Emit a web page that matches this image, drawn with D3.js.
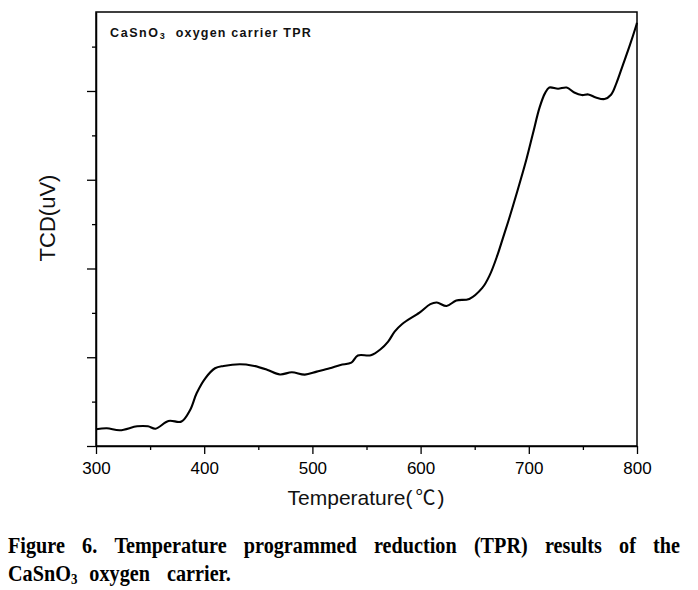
<!DOCTYPE html>
<html>
<head>
<meta charset="utf-8">
<script src="https://cdn.jsdelivr.net/npm/d3@7"></script>
<style>
  html, body { margin: 0; padding: 0; background: #fff; }
  svg { display: block; }
</style>
</head>
<body>
<svg id="chart" width="698" height="590"></svg>
<script>
// ---- data ----
const temperature = [300, 310, 322, 338, 348, 355, 367, 379, 387, 393, 401, 410, 418, 433, 445, 458, 470, 481, 493, 504, 516, 526, 536, 542, 554, 563, 570, 576, 583, 599, 609, 615, 624, 633, 645, 657, 664, 671, 676, 681, 685, 692, 698, 704, 710, 715, 719, 727, 735, 742, 749, 755, 762, 770, 776, 781, 787, 793, 799, 800];
const tcdSignal = [0.188, 0.200, 0.177, 0.222, 0.222, 0.195, 0.282, 0.276, 0.406, 0.594, 0.763, 0.876, 0.902, 0.921, 0.905, 0.860, 0.806, 0.831, 0.804, 0.838, 0.876, 0.913, 0.939, 1.020, 1.023, 1.090, 1.176, 1.289, 1.375, 1.503, 1.598, 1.616, 1.578, 1.640, 1.657, 1.781, 1.928, 2.150, 2.340, 2.530, 2.690, 2.980, 3.240, 3.530, 3.815, 3.976, 4.039, 4.025, 4.039, 3.983, 3.954, 3.961, 3.927, 3.909, 3.957, 4.089, 4.295, 4.502, 4.727, 4.769];
const xTickValues = [300, 350, 400, 450, 500, 550, 600, 650, 700, 750, 800];
const xTickLabels = ["300", "", "400", "", "500", "", "600", "", "700", "", "800"];
const yTickValues = [0, 0.5, 1, 1.5, 2, 2.5, 3, 3.5, 4, 4.5];
const yDomain = [0, 4.89];
const xLabel = "Temperature(";
const xLabelUnit = "\u2103";
const yLabel = "TCD(uV)";
const captionLine1 = ["Figure", "6.", "Temperature", "programmed", "reduction", "(TPR)", "results", "of", "the"];

// ---- layout ----
const L = 96, R = 637, T = 12, B = 446;
const svg = d3.select("#chart");
const x = d3.scaleLinear().domain([300, 800]).range([L, R]);
const y = d3.scaleLinear().domain(yDomain).range([B, T]);

// frame
svg.append("rect").attr("x", L).attr("y", T).attr("width", R - L).attr("height", B - T)
  .attr("fill", "none").attr("stroke", "#000").attr("stroke-width", 1.5);

// x axis
const xAxis = d3.axisBottom(x).tickValues(xTickValues)
  .tickFormat((d, i) => xTickLabels[i]).tickSizeOuter(0).tickPadding(6);
const gx = svg.append("g").attr("transform", `translate(0,${B})`).call(xAxis);
gx.select(".domain").attr("stroke-width", 1.5);
gx.selectAll(".tick line").attr("stroke-width", 1.3).attr("y2", d => d % 100 === 0 ? 8 : 4);
gx.selectAll(".tick text").attr("font-family", "Liberation Sans, Arial, sans-serif")
  .attr("font-size", 17).attr("fill", "#000").attr("dy", "0.95em");

// y axis
const yAxis = d3.axisLeft(y).tickValues(yTickValues).tickFormat("").tickSizeOuter(0);
const gy = svg.append("g").attr("transform", `translate(${L},0)`).call(yAxis);
gy.select(".domain").attr("stroke-width", 1.5);
gy.selectAll(".tick line").attr("stroke-width", 1.3).attr("x2", d => Number.isInteger(d) ? -9 : -4);

// curve
const line = d3.line().x((d, i) => x(temperature[i])).y(d => y(d)).curve(d3.curveCatmullRom.alpha(0.5));
svg.append("path").datum(tcdSignal).attr("d", line)
  .attr("fill", "none").attr("stroke", "#000").attr("stroke-width", 2.1).attr("stroke-linejoin", "round");

// axis titles
const xt = svg.append("text").attr("x", 366).attr("y", 505).attr("text-anchor", "middle")
  .attr("font-family", "Liberation Sans, Arial, sans-serif").attr("font-size", 21).attr("fill", "#111");
xt.append("tspan").text(xLabel);
xt.append("tspan").attr("dx", 3).attr("font-family", "'Noto Sans CJK SC', sans-serif").attr("font-size", 20).text(xLabelUnit);
xt.append("tspan").attr("dx", 2).text(")");
svg.append("text").attr("transform", "translate(55,218) rotate(-90)").attr("text-anchor", "middle")
  .attr("font-family", "Liberation Sans, Arial, sans-serif").attr("font-size", 22).attr("fill", "#111")
  .text(yLabel);

// inner title
const it = svg.append("text").attr("x", 110).attr("y", 37)
  .attr("font-family", "Liberation Sans, Arial, sans-serif").attr("font-weight", "bold")
  .attr("font-size", 12.5).attr("fill", "#111");
it.append("tspan").attr("letter-spacing", 1.6).text("CaSnO");
it.append("tspan").attr("font-size", 9).attr("dy", 2).text("3");
it.append("tspan").attr("dy", -2).attr("dx", 11).attr("letter-spacing", 1.2).text("oxygen carrier TPR");

// caption
const capFont = "Liberation Serif, Times New Roman, serif";
const capG = svg.append("g").attr("transform", "translate(8,0) scale(0.86,1)");
const capWidth = (680 - 8) / 0.86;
const words = capG.selectAll("text.w").data(captionLine1).join("text").attr("class", "w")
  .attr("y", 553).attr("font-family", capFont).attr("font-weight", "bold").attr("font-size", 23.5)
  .attr("fill", "#000").text(d => d);
const widths = [];
words.each(function () { widths.push(this.getComputedTextLength()); });
const gap = (capWidth - d3.sum(widths)) / (widths.length - 1);
let cx = 0;
words.attr("x", (d, i) => { const v = cx; cx += widths[i] + gap; return v; });

const l2 = capG.append("text").attr("x", 0).attr("y", 581).attr("font-family", capFont)
  .attr("font-weight", "bold").attr("font-size", 23.5).attr("fill", "#000");
l2.append("tspan").text("CaSnO");
l2.append("tspan").attr("font-size", 15).attr("dy", 3).text("3");
l2.append("tspan").attr("dy", -3).attr("dx", 14).attr("word-spacing", 14).text("oxygen carrier.");
</script>
</body>
</html>
